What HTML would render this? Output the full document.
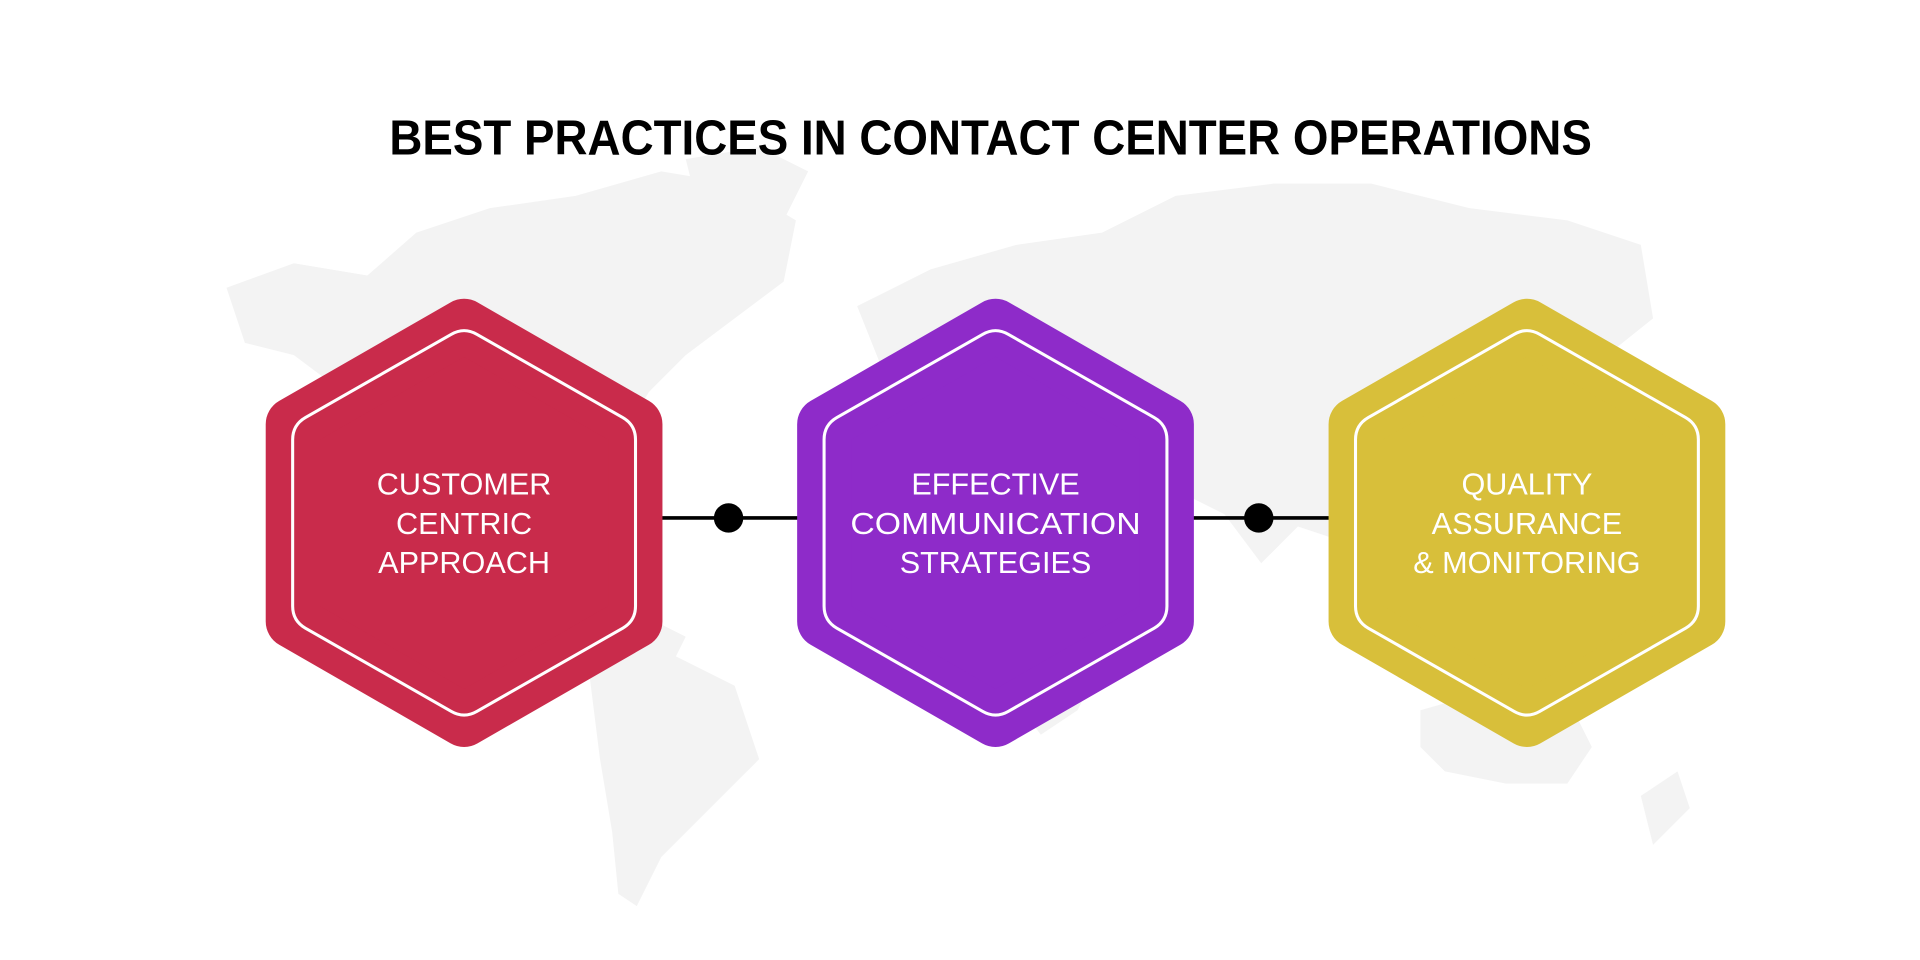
<!DOCTYPE html>
<html><head><meta charset="utf-8"><style>
html,body{margin:0;padding:0;background:#fff;width:1920px;height:960px;overflow:hidden}
svg{display:block}
</style></head><body>
<svg width="1920" height="960" viewBox="0 0 1568 784" xmlns="http://www.w3.org/2000/svg">
<g fill="#f3f3f3">
<path d="M185 235 L240 215 L300 225 L340 190 L400 170 L470 160 L540 140 L600 150 L650 180 L640 230 L600 260 L560 290 L530 320 L500 370 L470 420 L480 470 L520 500 L560 520 L540 560 L500 540 L470 510 L440 480 L400 440 L360 420 L320 400 L300 360 L280 320 L240 290 L200 280 Z"/>
<path d="M480 540 L540 530 L600 560 L620 620 L580 660 L540 700 L520 740 L505 730 L500 680 L490 620 Z"/>
<path d="M560 130 L620 120 L660 140 L640 180 L600 190 L570 170 Z"/>
<path d="M700 250 L760 220 L830 200 L900 190 L960 160 L1040 150 L1120 150 L1200 170 L1280 180 L1340 200 L1350 260 L1300 300 L1250 330 L1200 360 L1150 380 L1120 420 L1090 440 L1060 430 L1030 460 L1000 420 L960 400 L900 390 L860 400 L820 380 L780 350 L740 330 L720 300 Z"/>
<path d="M780 400 L860 390 L900 430 L920 480 L900 540 L880 580 L850 600 L820 560 L800 500 L770 450 Z"/>
<path d="M1160 580 L1230 560 L1280 570 L1300 610 L1280 640 L1230 640 L1180 630 L1160 610 Z"/>
<path d="M1340 650 L1370 630 L1380 660 L1350 690 Z"/>
</g>
<text x="809" y="126" text-anchor="middle" font-family="Liberation Sans, sans-serif" font-weight="bold" font-size="40" textLength="982" lengthAdjust="spacingAndGlyphs" fill="#000">BEST PRACTICES IN CONTACT CENTER OPERATIONS</text>
<g stroke="#000" stroke-width="3"><line x1="530" y1="423" x2="665" y2="423"/><line x1="965" y1="423" x2="1095" y2="423"/></g>
<circle cx="595" cy="423" r="12" fill="#000"/><circle cx="1028" cy="423" r="12" fill="#000"/>
<defs>
<polygon id="ho" points="0,-161 140,-80.5 140,80.5 0,161 -140,80.5 -140,-80.5"/>
<path id="hi" d="M-10.4,-154 Q0,-160 10.4,-154 L129.6,-86 Q140,-80 140,-68 L140,68 Q140,80 129.6,86 L10.4,154 Q0,160 -10.4,154 L-129.6,86 Q-140,80 -140,68 L-140,-68 Q-140,-80 -129.6,-86 Z"/>
</defs>
<g transform="translate(379,427)">
<use href="#ho" fill="#c92b4b" stroke="#c92b4b" stroke-width="44" stroke-linejoin="round"/>
<use href="#hi" fill="none" stroke="#fff" stroke-width="2.5"/>
</g>
<g transform="translate(813,427)">
<use href="#ho" fill="#8e2bc9" stroke="#8e2bc9" stroke-width="44" stroke-linejoin="round"/>
<use href="#hi" fill="none" stroke="#fff" stroke-width="2.5"/>
</g>
<g transform="translate(1247,427)">
<use href="#ho" fill="#d8bf3a" stroke="#d8bf3a" stroke-width="44" stroke-linejoin="round"/>
<use href="#hi" fill="none" stroke="#fff" stroke-width="2.5"/>
</g>
<g font-family="Liberation Sans, sans-serif" font-size="25" fill="#fff" text-anchor="middle">
<text x="379" y="404">CUSTOMER</text><text x="379" y="436">CENTRIC</text><text x="379" y="468">APPROACH</text>
<text x="813" y="404">EFFECTIVE</text><text x="813" y="436" textLength="237" lengthAdjust="spacingAndGlyphs">COMMUNICATION</text><text x="813" y="468">STRATEGIES</text>
<text x="1247" y="404">QUALITY</text><text x="1247" y="436">ASSURANCE</text><text x="1247" y="468">&amp; MONITORING</text>
</g>
</svg>
</body></html>
